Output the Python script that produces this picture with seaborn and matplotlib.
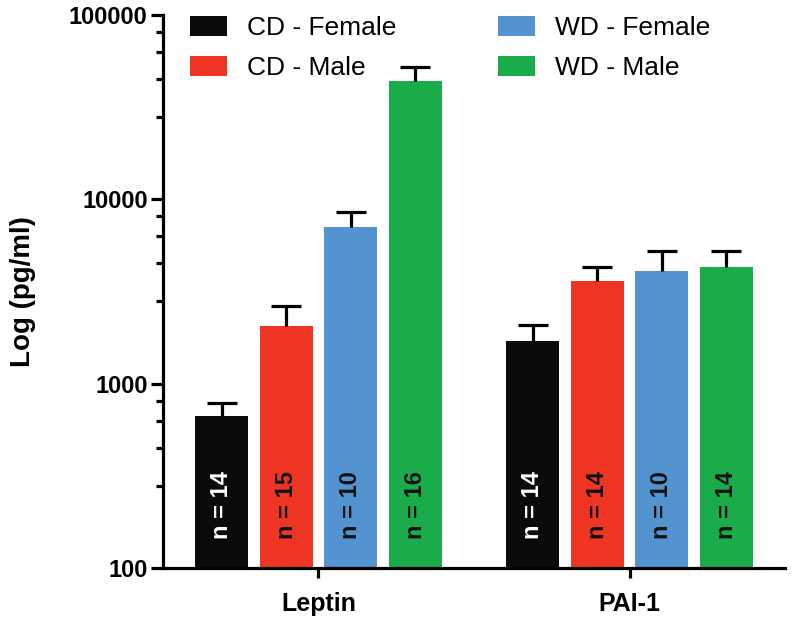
import numpy as np
import pandas as pd
import seaborn as sns
import matplotlib.pyplot as plt
from matplotlib.ticker import FixedLocator, NullFormatter

# Données
markers = ['Leptin', 'PAI-1']
groups = ['CD - Female', 'CD - Male', 'WD - Female', 'WD - Male']
leptin_mean = [670, 2050, 7050, 43800]
leptin_err_top = [790, 2650, 8500, 52000]
pai1_mean = [1700, 3620, 4100, 4280]
pai1_err_top = [2070, 4280, 5250, 5220]
leptin_n = [14, 15, 10, 16]
pai1_n = [14, 14, 10, 14]

colors = ['#0a0a0a', '#ee3524', '#5393cf', '#1aab4b']
n_text_colors = ['white', '#111111', '#111111', '#111111']

df = pd.DataFrame({
    'marker': ['Leptin'] * 4 + ['PAI-1'] * 4,
    'group': groups * 2,
    'mean': leptin_mean + pai1_mean,
    'top': leptin_err_top + pai1_err_top,
    'n': leptin_n + pai1_n,
})

sns.set_style('white')
plt.rcParams['font.family'] = ['Liberation Sans', 'DejaVu Sans']
plt.rcParams.update({'text.color': 'black', 'axes.labelcolor': 'black',
                     'xtick.color': 'black', 'ytick.color': 'black',
                     'axes.edgecolor': 'black'})

fig = plt.figure(figsize=(7.93, 6.2), dpi=100)
ax = fig.add_axes([0.2055, 0.0839, 0.7845, 0.8919])

sns.barplot(data=df, x='marker', y='mean', hue='group', order=markers,
            hue_order=groups, palette=colors, width=0.83, gap=0.18,
            errorbar=None, linewidth=0, saturation=1, ax=ax)
ax.set_yscale('log')
ax.set_ylim(100, 100000)
ax.set_xlim(-0.5, 1.5)

# Barres d'erreur (vers le haut seulement) et effectifs
bar_containers = list(ax.containers)
for gi, cont in enumerate(bar_containers):
    sub = df[df['group'] == groups[gi]].set_index('marker').loc[markers]
    xs = [b.get_x() + b.get_width() / 2 for b in cont]
    means = sub['mean'].values
    tops = sub['top'].values
    eb = ax.errorbar(xs, means, yerr=[np.zeros(len(means)), tops - means],
                     fmt='none', ecolor='black', elinewidth=2.3, capsize=10.5,
                     capthick=2.3, zorder=3)
    eb[1][0].set_visible(False)  # pas de chapeau en bas
    for x, n in zip(xs, sub['n'].values):
        ax.text(x, 220, f'n = {n}', rotation=90, ha='center', va='center',
                fontsize=17, fontweight='bold', color=n_text_colors[gi])

# Axes
sns.despine(ax=ax)
for s in ['left', 'bottom']:
    ax.spines[s].set_linewidth(2.3)
ax.set_yticks([100, 1000, 10000, 100000])
ax.set_yticklabels(['100', '1000', '10000', '100000'])
minor = [m * 10 ** d for d in range(2, 5) for m in [2.8, 4.5, 6.3, 8.1]]
ax.yaxis.set_minor_locator(FixedLocator(minor))
ax.yaxis.set_minor_formatter(NullFormatter())
ax.tick_params(axis='y', which='major', length=9, width=2.3, left=True,
               labelsize=17, pad=2)
ax.tick_params(axis='y', which='minor', length=5, width=2.3, left=True)
ax.tick_params(axis='x', length=7, width=2.3, bottom=True, labelsize=18, pad=10)
for lab in ax.get_xticklabels() + ax.get_yticklabels():
    lab.set_fontweight('bold')
ax.set_xlabel('')
ax.set_ylabel('Log (pg/ml)', fontsize=20, fontweight='bold', labelpad=24)

# Légende
handles, labels = ax.get_legend_handles_labels()
ax.legend(handles, labels, ncol=2, frameon=False, fontsize=19,
          loc='upper left', bbox_to_anchor=(0.2396, 0.975),
          bbox_transform=fig.transFigure, borderpad=0, borderaxespad=0,
          handlelength=1.4, handleheight=0.8, handletextpad=0.76,
          columnspacing=3.85, labelspacing=0.62)

plt.savefig('out.png', dpi=100)
